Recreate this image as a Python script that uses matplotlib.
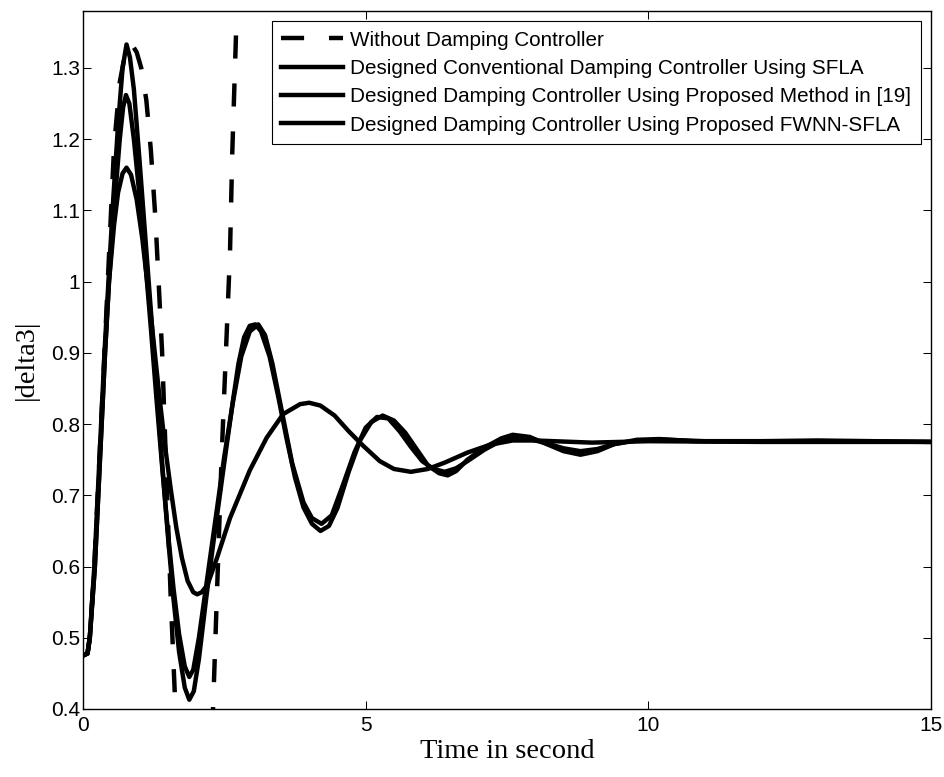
import numpy as np
import matplotlib
matplotlib.use("Agg")
import matplotlib.pyplot as plt

# ==========================================
# Data
# ==========================================
t_none = [0, 0.08, 0.12, 0.2, 0.26, 0.32, 0.38, 0.45, 0.55, 0.65, 0.75, 0.85, 0.95,
          1.03, 1.12, 1.2, 1.28, 1.35, 1.4, 1.47, 1.55, 1.63, 1.75, 1.9, 2.05, 2.2,
          2.3, 2.45, 2.6, 2.64, 2.72, 2.8, 2.9]
y_none = [0.475, 0.478, 0.5, 0.6, 0.7, 0.8, 0.9, 1.02, 1.19, 1.28, 1.322, 1.335, 1.322,
          1.30, 1.255, 1.185, 1.09, 0.98, 0.9, 0.74, 0.56, 0.41, 0.3, 0.22, 0.21, 0.28,
          0.4, 0.75, 1.04, 1.18, 1.38, 1.55, 1.75]

t_conv = [0, 0.08, 0.12, 0.2, 0.26, 0.32, 0.38, 0.45, 0.53, 0.62, 0.7, 0.77, 0.83, 0.9,
          1.0, 1.1, 1.2, 1.3, 1.4, 1.5, 1.6, 1.7, 1.8, 1.88, 1.96, 2.05, 2.18, 2.3, 2.42,
          2.55, 2.66, 2.75, 2.85, 2.95, 3.05, 3.15, 3.3, 3.45, 3.6, 3.75, 3.9, 4.05, 4.2,
          4.35, 4.5, 4.7, 4.9, 5.1, 5.3, 5.5, 5.7, 5.9, 6.1, 6.3, 6.45, 6.6, 6.8, 7.1,
          7.4, 7.6, 7.9, 8.2, 8.5, 8.8, 9.1, 9.4, 9.8, 10.2, 10.8, 12, 13, 15]
y_conv = [0.475, 0.478, 0.5, 0.6, 0.7, 0.8, 0.9, 1.0, 1.11, 1.22, 1.3, 1.333, 1.315, 1.27,
          1.17, 1.065, 0.96, 0.85, 0.745, 0.645, 0.555, 0.48, 0.43, 0.413, 0.425, 0.47,
          0.556, 0.63, 0.7, 0.775, 0.837, 0.885, 0.922, 0.938, 0.94, 0.93, 0.895, 0.84,
          0.78, 0.725, 0.683, 0.66, 0.65, 0.657, 0.682, 0.733, 0.777, 0.803, 0.812, 0.805,
          0.788, 0.765, 0.742, 0.731, 0.728, 0.734, 0.75, 0.767, 0.78, 0.785, 0.782,
          0.772, 0.762, 0.757, 0.762, 0.772, 0.778, 0.779, 0.776, 0.776, 0.777, 0.775]

t_ref19 = [0, 0.08, 0.12, 0.21, 0.27, 0.33, 0.39, 0.46, 0.56, 0.65, 0.71, 0.76, 0.82, 0.9,
           1.0, 1.1, 1.2, 1.3, 1.4, 1.5, 1.6, 1.7, 1.8, 1.88, 1.95, 2.05, 2.2, 2.35, 2.5,
           2.65, 2.8, 2.95, 3.1, 3.22, 3.35, 3.5, 3.7, 3.9, 4.05, 4.22, 4.4, 4.6, 4.8, 5.0,
           5.2, 5.4, 5.6, 5.8, 6.0, 6.2, 6.4, 6.6, 6.8, 7.1, 7.4, 7.6, 7.9, 8.2, 8.5, 8.8,
           9.1, 9.4, 9.8, 10.3, 11, 12, 13, 15]
y_ref19 = [0.475, 0.478, 0.5, 0.6, 0.7, 0.8, 0.9, 1.0, 1.11, 1.2, 1.245, 1.262, 1.25, 1.2,
           1.12, 1.03, 0.935, 0.835, 0.74, 0.65, 0.57, 0.505, 0.46, 0.445, 0.455, 0.5,
           0.585, 0.67, 0.755, 0.83, 0.895, 0.93, 0.94, 0.925, 0.885, 0.825, 0.745, 0.69,
           0.668, 0.66, 0.672, 0.715, 0.76, 0.795, 0.81, 0.808, 0.79, 0.768, 0.748, 0.737,
           0.733, 0.738, 0.748, 0.764, 0.777, 0.782, 0.779, 0.773, 0.766, 0.762, 0.765,
           0.772, 0.777, 0.778, 0.776, 0.776, 0.776, 0.775]

t_fwnn = [0, 0.08, 0.12, 0.21, 0.27, 0.33, 0.39, 0.46, 0.55, 0.62, 0.7, 0.77, 0.85, 0.95,
          1.05, 1.15, 1.25, 1.35, 1.45, 1.55, 1.65, 1.75, 1.85, 1.95, 2.02, 2.1, 2.2, 2.37,
          2.6, 2.95, 3.25, 3.54, 3.84, 4.0, 4.2, 4.45, 4.7, 4.95, 5.25, 5.5, 5.8, 6.1, 6.4,
          6.8, 7.2, 7.6, 8.0, 9.0, 10, 12, 15]
y_fwnn = [0.475, 0.478, 0.5, 0.6, 0.7, 0.8, 0.9, 1.0, 1.08, 1.125, 1.152, 1.16, 1.15, 1.115,
          1.06, 0.99, 0.915, 0.84, 0.77, 0.71, 0.655, 0.612, 0.58, 0.564, 0.561, 0.564,
          0.574, 0.612, 0.668, 0.735, 0.781, 0.814, 0.828, 0.83, 0.826, 0.812, 0.79, 0.77,
          0.748, 0.737, 0.733, 0.737, 0.746, 0.76, 0.771, 0.777, 0.777, 0.774, 0.776,
          0.775, 0.775]

labels = ["Without Damping Controller",
          "Designed Conventional Damping Controller Using SFLA",
          "Designed Damping Controller Using Proposed Method in [19]",
          "Designed Damping Controller Using Proposed FWNN-SFLA"]

xticks = [0, 5, 10, 15]
yticks = [0.4, 0.5, 0.6, 0.7, 0.8, 0.9, 1.0, 1.1, 1.2, 1.3]
ytick_labels = ["0.4", "0.5", "0.6", "0.7", "0.8", "0.9", "1", "1.1", "1.2", "1.3"]

# ==========================================
# Style (MATLAB look)
# ==========================================
plt.rcParams["font.family"] = ["Liberation Sans", "DejaVu Sans"]
plt.rcParams["xtick.direction"] = "in"
plt.rcParams["ytick.direction"] = "in"
plt.rcParams["xtick.top"] = True
plt.rcParams["ytick.right"] = True

fig = plt.figure(figsize=(9.45, 7.77), dpi=100)
ax = fig.add_axes([83 / 945, 1 - 709 / 777, 848 / 945, 698 / 777])

ax.plot(t_none, y_none, color="black", lw=3.2, linestyle=(0, (5.2, 5.6)), label=labels[0])
ax.plot(t_conv, y_conv, color="black", lw=3.2, label=labels[1])
ax.plot(t_ref19, y_ref19, color="black", lw=3.2, label=labels[2])
ax.plot(t_fwnn, y_fwnn, color="black", lw=3.2, label=labels[3])

ax.set_xlim(0, 15)
ax.set_ylim(0.4, 1.38)
ax.set_xticks(xticks)
ax.set_xticklabels([str(v) for v in xticks])
ax.set_yticks(yticks)
ax.set_yticklabels(ytick_labels)
ax.tick_params(axis="both", labelsize=15, length=6, width=0.75)
ax.tick_params(axis="x", pad=5)
ax.tick_params(axis="y", pad=2)
for s in ax.spines.values():
    s.set_linewidth(1.0)

ax.set_xlabel("Time in second", family="Liberation Serif", fontsize=20.5, labelpad=3)
ax.set_ylabel("|delta3|", family="Liberation Serif", fontsize=20.5, labelpad=9)

leg = ax.legend(loc="upper right", fontsize=14.9, fancybox=False, edgecolor="black",
                framealpha=1, handlelength=3.0, handletextpad=0.35, borderpad=0.45,
                labelspacing=0.45, borderaxespad=0.5)
leg.get_frame().set_linewidth(0.8)

plt.savefig("out.png", dpi=100)
plt.close()
